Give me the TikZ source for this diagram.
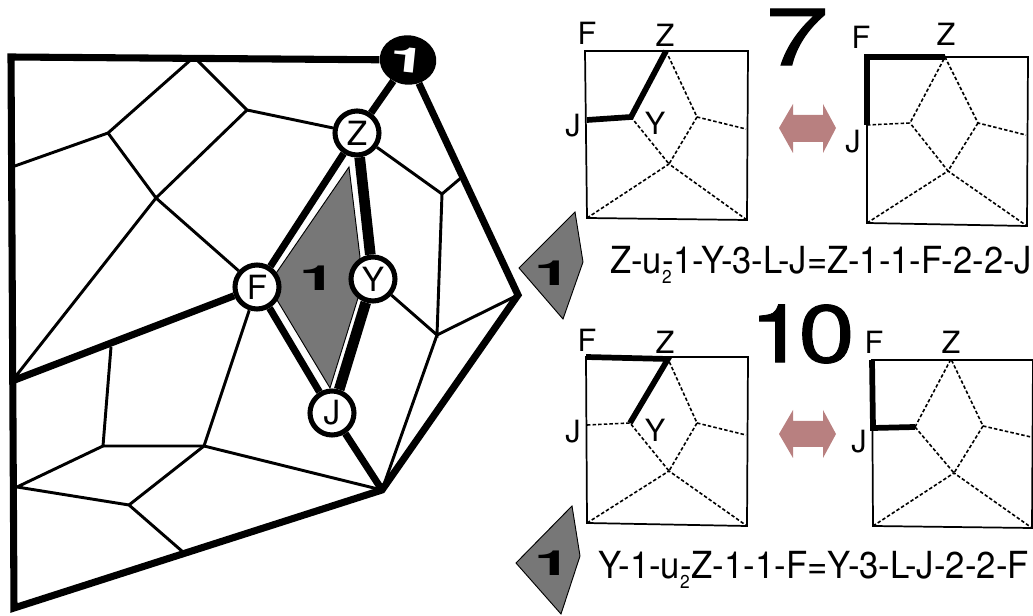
\documentclass[tikz,border=0pt]{standalone}
\usepackage{fontspec}
\setmainfont{TeX Gyre Heros}
\newfontfamily\bignum[FakeBold=1]{TeX Gyre Heros}
\usetikzlibrary{shapes.geometric}
\newcommand{\fsz}[1]{\fontsize{#1}{#1}\selectfont}
\newcommand{\faceone}{\scalebox{1.9}[1]{\bfseries 1}}
\newcommand{\subtwo}{\rlap{\raisebox{-7.5pt}{\fsz{14}2}}}
\definecolor{kitegray}{HTML}{777777}
\definecolor{arrowrose}{HTML}{B88080}

\begin{document}
\begin{tikzpicture}[x=0.75pt,y=-0.75pt]
\tikzset{
  thin line/.style={line width=2.2pt,draw=black},
  outer/.style={line width=5.3pt,draw=black,line join=miter},
  heavy/.style={line width=8pt,draw=black},
  vert/.style={circle,draw=black,fill=white,line width=3.8pt,minimum size=33pt,inner sep=0pt,font=\fsz{25}},
  frame/.style={line width=1.3pt,draw=black},
  dashline/.style={line width=1.2pt,draw=black,dash pattern=on 2.6pt off 1.6pt},
  bold path/.style={line width=4.3pt,draw=black,line join=miter},
  lab/.style={inner sep=0pt,font=\fsz{23}},
  eqn/.style={inner sep=0pt,anchor=base west,font=\fsz{28}},
  kite/.style={fill=kitegray,draw=black,line width=0.7pt},
  face/.style={inner sep=0pt,font=\fsz{26}},
  big/.style={inner sep=0pt,font=\fsz{61}\bignum}
}
\useasboundingbox (0,0) rectangle (1033,616);
% big graph
\coordinate (tl) at (11,57);
\coordinate (bl) at (14,608);
\coordinate (lm) at (12,381);
\coordinate (rt) at (518,295);
\coordinate (bt) at (382,490);
\coordinate (a1) at (194,57);
\coordinate (a2) at (108,133);
\coordinate (a3) at (247,110);
\coordinate (a4) at (156,198);
\coordinate (a5) at (12,167);
\coordinate (b1) at (111,347);
\coordinate (b2) at (103,446);
\coordinate (b3) at (204,446);
\coordinate (b4) at (17,487);
\coordinate (b5) at (129,505);
\coordinate (b6) at (183,552);
\coordinate (c1) at (442,194);
\coordinate (c2) at (462,177);
\coordinate (c3) at (437,335);
\draw[kite] (349,167) -- (360,257) -- (358,298) -- (330,388) -- (268,285) -- cycle;
\node[face] (mid) at (318,278) {\faceone};
\node[vert] (Z) at (357,133) {Z};
\node[vert] (F) at (257,287) {F};
\node[vert] (Y) at (373,279) {Y};
\node[vert] (J) at (332,413) {J};
\node[face,ellipse,fill=black,minimum width=42.5pt,minimum height=37pt,rotate=-6,text=white] (top) at (408,60) {\faceone};
\draw[thin line] (a5)--(a2)--(a1)--(a3)--(Z);
\draw[thin line] (a2)--(a4)--(F);
\draw[thin line] (a3)--(a4)--(lm);
\draw[thin line] (b1)--(b2)--(b3)--(F);
\draw[thin line] (b2)--(b4)--(b5)--(b6);
\draw[thin line] (b5)--(b3)--(bt);
\draw[thin line] (Z)--(c1)--(c2);
\draw[thin line] (c1)--(c3)--(Y);
\draw[thin line] (rt)--(c3)--(bt);
\draw[outer] (top)--(tl)--(bl)--(bt)--(rt)--(top);
\draw[outer] (top)--(Z)--(F)--(J)--(bt);
\draw[outer] (lm)--(F);
\draw[heavy] (Z)--(Y)--(J);
% kites
\draw[kite] (575,212) -- (583,262) -- (563,319) -- (519,268) -- cycle;
\node[face] (kA) at (553,273) {\faceone};
\draw[kite] (572,506) -- (580,556) -- (561,614) -- (516,563) -- cycle;
\node[face] (kB) at (553,563) {\faceone};
% panel 7 left
\coordinate (p1nw) at (585,51);
\coordinate (p1ne) at (748,51);
\coordinate (p1se) at (747,220);
\coordinate (p1sw) at (587,218);
\coordinate (p1z) at (666,51);
\coordinate (p1y) at (631,117);
\coordinate (p1j) at (587,120);
\coordinate (p1u) at (697,117);
\coordinate (p1c) at (669,164);
\coordinate (p1r) at (746,129);
\draw[frame] (p1nw)--(p1ne)--(p1se)--(p1sw)--cycle;
\draw[dashline] (p1z)--(p1u)--(p1r);
\draw[dashline] (p1u)--(p1c)--(p1y);
\draw[dashline] (p1sw)--(p1c)--(p1se);
\draw[bold path] (p1j)--(p1y)--(p1z);
\node[lab] (p1F) at (587,33) {F};
\node[lab] (p1Z) at (665,35) {Z};
\node[lab] (p1J) at (573,126) {J};
\node[lab] (p1Y) at (655,123) {Y};
% panel 7 right
\coordinate (p2nw) at (867,57);
\coordinate (p2ne) at (1028,57);
\coordinate (p2se) at (1027,226);
\coordinate (p2sw) at (867,223);
\coordinate (p2z) at (945,57);
\coordinate (p2y) at (910,123);
\coordinate (p2j) at (867,125);
\coordinate (p2u) at (978,123);
\coordinate (p2c) at (948,171);
\coordinate (p2r) at (1026,135);
\draw[frame] (p2nw)--(p2ne)--(p2se)--(p2sw)--cycle;
\draw[dashline] (p2j)--(p2y)--(p2z)--(p2u)--(p2r);
\draw[dashline] (p2u)--(p2c)--(p2y);
\draw[dashline] (p2sw)--(p2c)--(p2se);
\draw[bold path] (p2j)--(p2nw)--(p2z);
\node[lab] (p2F) at (861,37) {F};
\node[lab] (p2Z) at (946,34) {Z};
\node[lab] (p2J) at (853,142) {J};
% panel 10 left
\coordinate (p3nw) at (586,357);
\coordinate (p3ne) at (748,357);
\coordinate (p3se) at (747,526);
\coordinate (p3sw) at (587,523);
\coordinate (p3z) at (668,359);
\coordinate (p3y) at (630,423);
\coordinate (p3j) at (587,425);
\coordinate (p3u) at (697,423);
\coordinate (p3c) at (669,471);
\coordinate (p3r) at (746,435);
\draw[frame] (p3nw)--(p3ne)--(p3se)--(p3sw)--cycle;
\draw[dashline] (p3j)--(p3y)--(p3c)--(p3u)--(p3z);
\draw[dashline] (p3u)--(p3r);
\draw[dashline] (p3sw)--(p3c)--(p3se);
\draw[bold path] (p3nw)--(p3z)--(p3y);
\node[lab] (p3F) at (587,340) {F};
\node[lab] (p3Z) at (665,342) {Z};
\node[lab] (p3J) at (573,432) {J};
\node[lab] (p3Y) at (655,430) {Y};
% panel 10 right
\coordinate (p4nw) at (872,360);
\coordinate (p4ne) at (1033,360);
\coordinate (p4se) at (1032,528);
\coordinate (p4sw) at (873,526);
\coordinate (p4z) at (951,359);
\coordinate (p4y) at (915,427);
\coordinate (p4j) at (873,428);
\coordinate (p4u) at (983,426);
\coordinate (p4c) at (954,473);
\coordinate (p4r) at (1031,437);
\draw[frame] (p4nw)--(p4ne)--(p4se)--(p4sw)--cycle;
\draw[dashline] (p4y)--(p4z)--(p4u)--(p4r);
\draw[dashline] (p4u)--(p4c)--(p4y);
\draw[dashline] (p4sw)--(p4c)--(p4se);
\draw[bold path] (p4nw)--(p4j)--(p4y);
\node[lab] (p4F) at (874,342) {F};
\node[lab] (p4Z) at (951,342) {Z};
\node[lab] (p4J) at (859,442) {J};
% numbers and arrows
\node[big] (seven) at (797,37) {\scalebox{1.4}[1]{7}};
\node[big] (ten) at (802,334) {\scalebox{1.25}[1]{1\kern-4.5pt 0}};
\fill[arrowrose] (779,128) -- (793,104) -- (793,115) -- (823,115) -- (823,104) -- (836,128) -- (823,153) -- (823,142) -- (793,142) -- (793,153) -- cycle;
\fill[arrowrose] (779,434) -- (793,410) -- (793,421) -- (823,421) -- (823,410) -- (836,434) -- (823,458) -- (823,447) -- (793,447) -- (793,458) -- cycle;
\node[eqn] (eqA) at (610,274) {\scalebox{0.925}[1]{Z-u\subtwo-1-Y-3-L-J=Z-1-1-F-2-2-J}};
\node[eqn] (eqB) at (598,579) {\scalebox{0.93}[1]{Y-1-u\subtwo-Z-1-1-F=Y-3-L-J-2-2-F}};
\end{tikzpicture}
\end{document}
